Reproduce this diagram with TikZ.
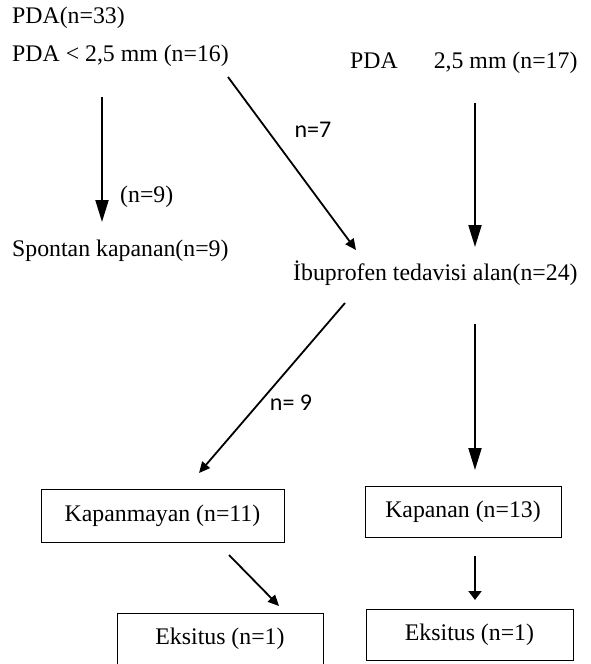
\documentclass[tikz,border=0pt]{standalone}
\usepackage{fontspec}
\setmainfont{Liberation Serif}
\newfontfamily\lblfont{Carlito}
\usetikzlibrary{arrows.meta}
\tikzset{
  txt/.style={font=\fontsize{23.8}{28}\selectfont, inner sep=0pt},
  lbl/.style={font=\lblfont\fontsize{24}{28}\selectfont, inner sep=0pt},
  box/.style={draw, line width=1pt, inner sep=0pt, font=\fontsize{23.8}{28}\selectfont},
  bigarr/.style={line width=2pt, -{Triangle[length=22pt,width=13pt]}},
  diagarr/.style={line width=1.8pt, -{Triangle[length=11pt,width=10pt]}},
  shortarr/.style={line width=2pt, -{Triangle[length=9pt,width=13pt]}},
}

\begin{document}
\begin{tikzpicture}[x=1pt,y=-1pt]
\useasboundingbox (0,0) rectangle (590,664);
% top lines
\node[txt, anchor=base west] (total) at (12,23) {PDA(n=33)};
\node[txt, anchor=base west] (small) at (12,61) {PDA < 2,5 mm (n=16)};
\node[txt, anchor=base west] (large) at (350,68) {PDA\hspace{36pt}2,5 mm (n=17)};
\node[txt, anchor=base west] (spont) at (12,256) {Spontan kapanan(n=9)};
\node[txt, anchor=base west] (ibu) at (293,280) {İbuprofen tedavisi alan(n=24)};
% boxes
\node[box, minimum width=243pt, minimum height=53pt] (open) at (162.5,515.5) {Kapanmayan (n=11)};
\node[box, minimum width=196pt, minimum height=51pt] (closed) at (463,511.5) {Kapanan (n=13)};
\node[box, minimum width=206pt, minimum height=52pt] (exl) at (220,639) {Eksitus (n=1)};
\node[box, minimum width=207pt, minimum height=51pt] (exr) at (469.5,634.5) {Eksitus (n=1)};
% arrow ends
\coordinate (a1s) at (102,97);   \coordinate (a1e) at (102,222);
\coordinate (a2s) at (228,77);   \coordinate (a2e) at (356,250);
\coordinate (a3s) at (475,103);  \coordinate (a3e) at (475,247);
\coordinate (a4s) at (345,303);  \coordinate (a4e) at (199,473);
\coordinate (a5s) at (475,324);  \coordinate (a5e) at (475,470);
\coordinate (a6s) at (229,555);  \coordinate (a6e) at (279,606);
\coordinate (a7s) at (475,556);  \coordinate (a7e) at (475,600);
\draw[bigarr] (a1s) -- (a1e);
\draw[diagarr] (a2s) -- (a2e);
\draw[bigarr] (a3s) -- (a3e);
\draw[diagarr] (a4s) -- (a4e);
\draw[bigarr] (a5s) -- (a5e);
\draw[diagarr] (a6s) -- (a6e);
\draw[shortarr] (a7s) -- (a7e);
% labels
\node[txt, anchor=base west] (lspont) at (120,202) {(n=9)};
\node[lbl] (l7) at (313,130) {n=7};
\node[lbl] (l9) at (291,403) {n= 9};
\end{tikzpicture}
\end{document}
